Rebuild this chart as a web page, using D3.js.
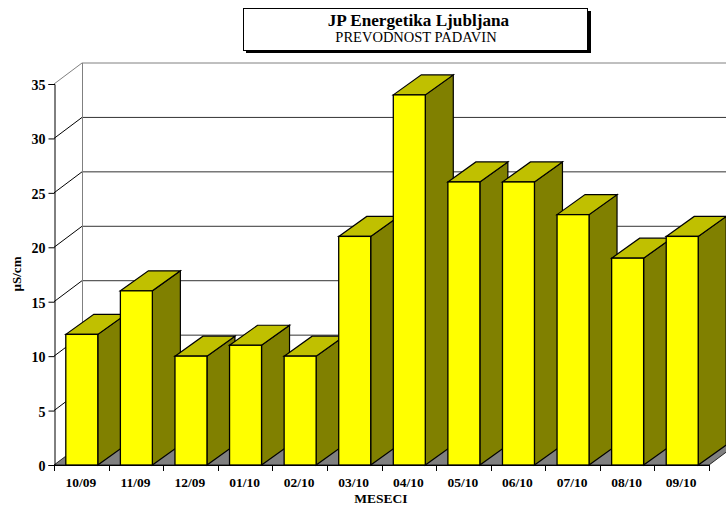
<!doctype html>
<html>
<head>
<meta charset="utf-8">
<script src="https://d3js.org/d3.v7.min.js"></script>
<style>
  html, body { margin: 0; padding: 0; background: #fff; }
  svg { display: block; }
  text { font-family: "Liberation Serif", serif; fill: #000; }
</style>
</head>
<body>
<svg width="726" height="506"></svg>
<script>
const months = ["10/09","11/09","12/09","01/10","02/10","03/10","04/10","05/10","06/10","07/10","08/10","09/10"];
const values = [12, 16, 10, 11, 10, 21, 34, 26, 26, 23, 19, 21];
const yTicks = [0, 5, 10, 15, 20, 25, 30, 35];

const svg = d3.select("svg");

// plot box and the 3d depth
const plotLeft = 54, plotRight = 709, plotBottom = 465, plotTop = 84;
const depthX = 28, depthY = 21;
const barDepthX = 28, barDepthY = 20;

const x = d3.scaleBand().domain(months).range([plotLeft + 0.5, plotRight + 0.5]).paddingInner(0.414).paddingOuter(0.207);
const y = d3.scaleLinear().domain([0, 35]).range([plotBottom, plotTop]);

const poly = pts => pts.map(p => p.join(",")).join(" ");

// back wall
svg.append("g").selectAll("line")
  .data(yTicks.slice(1))
  .enter().append("line")
    .attr("x1", plotLeft + depthX).attr("x2", 726)
    .attr("y1", d => y(d) - depthY).attr("y2", d => y(d) - depthY)
    .attr("stroke", d => d === 35 ? "#808080" : "#333")
    .attr("stroke-width", 1);

svg.append("line")
  .attr("x1", plotLeft + depthX + 0.5).attr("x2", plotLeft + depthX + 0.5)
  .attr("y1", y(35) - depthY).attr("y2", plotBottom - depthY)
  .attr("stroke", "#808080");

// left wall slants
svg.append("g").selectAll("line")
  .data(yTicks.slice(1))
  .enter().append("line")
    .attr("x1", plotLeft).attr("x2", plotLeft + depthX)
    .attr("y1", d => y(d)).attr("y2", d => y(d) - depthY)
    .attr("stroke", d => d === 35 ? "#808080" : "#000");

// floor
svg.append("polygon")
  .attr("points", poly([[plotLeft, plotBottom], [plotLeft + depthX, plotBottom - depthY], [plotRight + depthX, plotBottom - depthY], [plotRight, plotBottom]]))
  .attr("fill", "#808080")
  .attr("stroke", "#000")
  .attr("stroke-width", 0.8);

// bars
const bars = svg.append("g").selectAll("g")
  .data(months.map((m, i) => ({ month: m, value: values[i] })))
  .enter().append("g");

const bw = x.bandwidth();

bars.append("polygon")
  .attr("points", d => {
    const x1 = x(d.month) + bw, t = y(d.value);
    return poly([[x1, t], [x1 + barDepthX, t - barDepthY], [x1 + barDepthX, plotBottom - barDepthY], [x1, plotBottom]]);
  })
  .attr("fill", "#808000").attr("stroke", "#000").attr("stroke-width", 1.2);

bars.append("polygon")
  .attr("points", d => {
    const x0 = x(d.month), t = y(d.value);
    return poly([[x0, t], [x0 + barDepthX, t - barDepthY], [x0 + bw + barDepthX, t - barDepthY], [x0 + bw, t]]);
  })
  .attr("fill", "#c0c000").attr("stroke", "#000").attr("stroke-width", 1.2);

bars.append("rect")
  .attr("x", d => x(d.month))
  .attr("y", d => y(d.value))
  .attr("width", bw)
  .attr("height", d => plotBottom - y(d.value))
  .attr("fill", "#ffff00").attr("stroke", "#000").attr("stroke-width", 1.3);

// axes
const yAxis = d3.axisLeft(y).tickValues(yTicks).tickSize(6).tickPadding(3);
const yG = svg.append("g").attr("transform", `translate(${plotLeft + 0.5},0)`).call(yAxis);
yG.select(".domain").attr("stroke", "#000").attr("stroke-width", 1);
yG.selectAll("text").attr("font-size", 14).attr("font-weight", "bold").attr("font-family", "Liberation Serif").attr("y", 1);

const xAxis = d3.axisBottom(x).tickSize(0).tickPadding(12.5);
const xG = svg.append("g").attr("transform", `translate(-1,${plotBottom})`).call(xAxis);
xG.select(".domain").remove();
xG.selectAll("text").attr("font-size", 13.5).attr("font-weight", "bold").attr("font-family", "Liberation Serif");

// ticks sit between the categories, not on them
svg.append("g").selectAll("line")
  .data(d3.range(months.length + 1))
  .enter().append("line")
    .attr("x1", i => Math.round(plotLeft + i * x.step()) + 0.5)
    .attr("x2", i => Math.round(plotLeft + i * x.step()) + 0.5)
    .attr("y1", plotBottom).attr("y2", plotBottom + 6)
    .attr("stroke", "#000");

svg.append("line")
  .attr("x1", plotLeft).attr("x2", plotRight)
  .attr("y1", plotBottom + 0.5).attr("y2", plotBottom + 0.5)
  .attr("stroke", "#000").attr("stroke-width", 1.2);

// axis titles
svg.append("text")
  .attr("x", 381).attr("y", 503)
  .attr("text-anchor", "middle").attr("font-size", 13.5).attr("font-weight", "bold")
  .text("MESECI");

svg.append("text")
  .attr("transform", "translate(21,274) rotate(-90)")
  .attr("text-anchor", "middle").attr("font-size", 13).attr("font-weight", "bold")
  .text("µS/cm");

// title box
svg.append("rect").attr("x", 246).attr("y", 11).attr("width", 345).attr("height", 42).attr("fill", "#000");
svg.append("rect").attr("x", 243.5).attr("y", 8.5).attr("width", 344).attr("height", 42)
  .attr("fill", "#fff").attr("stroke", "#000").attr("stroke-width", 1);

svg.append("text").attr("x", 418.5).attr("y", 26)
  .attr("text-anchor", "middle").attr("font-size", 17.2).attr("font-weight", "bold")
  .text("JP Energetika Ljubljana");
svg.append("text").attr("x", 416).attr("y", 42)
  .attr("text-anchor", "middle").attr("font-size", 14.5)
  .text("PREVODNOST PADAVIN");
</script>
</body>
</html>
